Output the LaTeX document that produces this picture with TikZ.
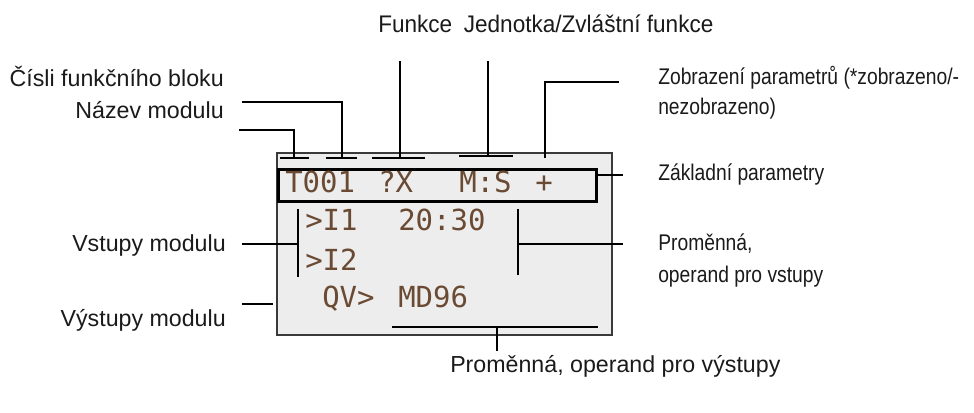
\documentclass[tikz,border=0pt]{standalone}
\usepackage{fontspec}
\setmainfont{Liberation Sans}
\newfontfamily\condfont[FakeStretch=0.85]{Liberation Sans}
\newfontfamily\topfont[FakeStretch=0.94]{Liberation Sans}
\newfontfamily\lcdfont{DejaVu Sans Mono}
\definecolor{lcdbg}{HTML}{EDEDED}
\definecolor{boxgray}{HTML}{3A3A3A}
\definecolor{lcdtext}{HTML}{6A4A32}
\definecolor{txt}{HTML}{1A1A1A}
\begin{document}
\begin{tikzpicture}[x=0.75pt,y=-0.75pt,
  lbl/.style={inner sep=0pt, anchor=base east, text=txt, font=\fontsize{17.4pt}{20pt}\selectfont},
  blbl/.style={inner sep=0pt, anchor=base west, text=txt, font=\fontsize{17.4pt}{20pt}\selectfont},
  rlbl/.style={inner sep=0pt, anchor=base west, text=txt, font=\condfont\fontsize{17pt}{20pt}\selectfont},
  tlbl/.style={inner sep=0pt, anchor=base west, text=txt, font=\topfont\fontsize{18pt}{20pt}\selectfont},
  lcd/.style={inner sep=0pt, anchor=base west, text=lcdtext, font=\lcdfont\fontsize{21.75pt}{24pt}\selectfont},
  lead/.style={draw=black, line width=1pt},
  markbar/.style={draw=black, line width=1.6pt},
  bracketline/.style={draw=black, line width=1.5pt},
  screen/.style={draw=boxgray, fill=lcdbg, line width=1.2pt, inner sep=0pt, anchor=north west},
  paramframe/.style={draw=black, line width=2pt, inner sep=0pt, anchor=north west}
]
\useasboundingbox (0,0) rectangle (974,412);

% display
\node[screen, minimum width=251.25pt, minimum height=136.5pt] (screen) at (276,152) {};
\node[paramframe, minimum width=238.5pt, minimum height=24pt] (param) at (277,168) {};

% LCD text
\node[lcd] (t001) at (285,192) {T001};
\node[lcd] (qx) at (378,192) {?X};
\node[lcd] (ms) at (459,192) {M:S};
\node[lcd] (plus) at (535,192) {+};
\node[lcd] (i1) at (305,230) {>I1};
\node[lcd] (time) at (398,230) {20:30};
\node[lcd] (i2) at (305,270) {>I2};
\node[lcd] (qv) at (322,307) {QV>};
\node[lcd] (md) at (398,307) {MD96};

% labels
\node[lbl] (cislo) at (224,86) {Čísli funkčního bloku};
\node[lbl] (nazev) at (224,118) {Název modulu};
\node[lbl] (vstupy) at (226,251) {Vstupy modulu};
\node[lbl] (vystupy) at (226,326) {Výstupy modulu};
\node[tlbl] (funkce) at (378,32) {Funkce\hspace{4pt} Jednotka/Zvláštní funkce};
\node[rlbl] (zobr1) at (658,84) {Zobrazení parametrů (*zobrazeno/-};
\node[rlbl] (zobr2) at (658,114) {nezobrazeno)};
\node[rlbl] (zakl) at (658,180) {Základní parametry};
\node[rlbl] (prom1) at (658,250) {Proměnná,};
\node[rlbl] (prom2) at (658,282) {operand pro vstupy};
\node[blbl] (promout) at (450,372) {Proměnná, operand pro výstupy};

% marker bars
\coordinate (a1) at (280,158); \coordinate (a2) at (309,158);
\coordinate (b1) at (326,158); \coordinate (b2) at (357,158);
\coordinate (c1) at (372,158); \coordinate (c2) at (425,158);
\coordinate (d1) at (459,156); \coordinate (d2) at (513,156);
\coordinate (o1) at (392,327); \coordinate (o2) at (598,327);
\path[markbar] (a1) -- (a2);
\path[markbar] (b1) -- (b2);
\path[markbar] (c1) -- (c2);
\path[markbar] (d1) -- (d2);
\path[markbar] (o1) -- (o2);

% leader ends
\coordinate (aT) at (294,158); \coordinate (aE) at (239,130);
\coordinate (bT) at (342,158); \coordinate (bE) at (242,102);
\coordinate (cT) at (400,158); \coordinate (cE) at (400,61);
\coordinate (dT) at (488,156); \coordinate (dE) at (488,61);
\coordinate (pT) at (545,158); \coordinate (pE) at (619,82);
\coordinate (zS) at (595,175); \coordinate (zE) at (623,175);
\coordinate (iL1) at (298,209); \coordinate (iL2) at (298,277);
\coordinate (iLm) at (298,244); \coordinate (iLE) at (242,244);
\coordinate (iR1) at (518,209); \coordinate (iR2) at (518,275);
\coordinate (iRm) at (518,244); \coordinate (iRE) at (623,244);
\coordinate (vS) at (273,304); \coordinate (vE) at (242,304);
\coordinate (oT) at (497,327); \coordinate (oE) at (497,351);

\path[lead] (aT) |- (aE);
\path[lead] (bT) |- (bE);
\path[lead] (cT) -- (cE);
\path[lead] (dT) -- (dE);
\path[lead] (pT) |- (pE);
\path[lead] (zS) -- (zE);
\path[bracketline] (iL1) -- (iL2);
\path[lead] (iLm) -- (iLE);
\path[bracketline] (iR1) -- (iR2);
\path[lead] (iRm) -- (iRE);
\path[lead] (vS) -- (vE);
\path[lead] (oT) -- (oE);
\end{tikzpicture}
\end{document}
